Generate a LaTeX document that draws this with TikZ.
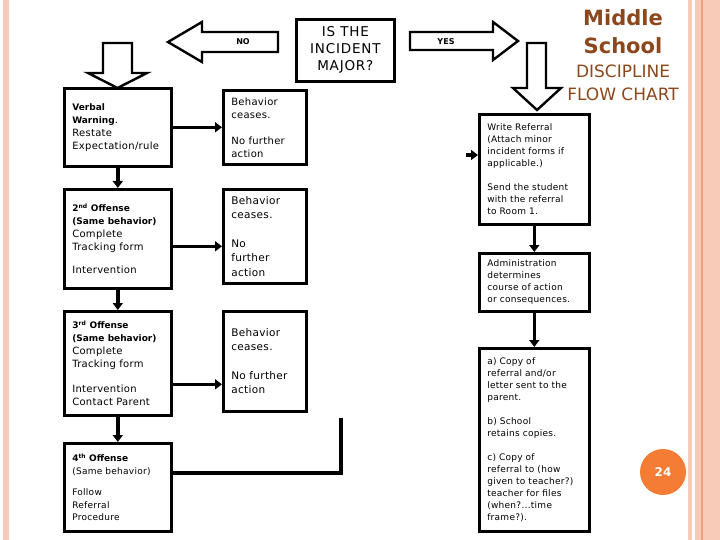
\documentclass[tikz,border=0pt]{standalone}
\usepackage{fontspec}
\usetikzlibrary{arrows.meta}
\setmainfont{DejaVu Sans}
\newfontfamily\chartfont[LetterSpace=3]{DejaVu Sans}
\newfontfamily\majorfont[LetterSpace=6]{DejaVu Sans}
\newfontfamily\headfont{DejaVu Sans}
\definecolor{stripe}{RGB}{248,202,184}
\definecolor{stripeline}{RGB}{236,158,126}
\definecolor{titlebrown}{RGB}{140,72,28}
\definecolor{pageorange}{RGB}{244,124,52}

\newcommand{\boxtext}{\chartfont\fontsize{10}{13}\selectfont}
\newcommand{\widetext}{\chartfont\fontsize{10.5}{14.5}\selectfont}
\newcommand{\smalltext}{\chartfont\fontsize{9}{12}\selectfont}
\newcommand{\boxhead}{\headfont\bfseries\fontsize{9}{13}\selectfont}

\begin{document}
\begin{tikzpicture}[x=1pt,y=-1pt,
  box/.style={draw, line width=2.6pt, anchor=north west, align=left,
    inner xsep=8pt, inner ysep=4pt},
  conn/.style={line width=3.5pt, -{Triangle[length=7pt,width=10pt]}},
  block/.style={draw, line width=2.4pt, fill=white, line join=miter}]
  \useasboundingbox (0,0) rectangle (720,540);

  % page stripes
  \fill[stripe] (3,0) rectangle (9,540);
  \fill[stripe] (688,0) rectangle (720,540);
  \fill[white] (691.5,0) rectangle (694.5,540);
  \draw[stripeline, line width=1.2pt] (702,0) -- (702,540);

  % title
  \node[text=titlebrown, align=center, font=\headfont\bfseries\fontsize{21}{28}\selectfont]
    (title) at (623,32) {Middle\\School};
  \node[text=titlebrown, align=center, font=\headfont\fontsize{17}{23}\selectfont]
    (subtitle) at (623,82.5) {DISCIPLINE\\FLOW CHART};

  % question
  \node[box, align=center, minimum width=98pt, minimum height=62pt,
    font=\majorfont\fontsize{13.5}{17}\selectfont] (major) at (295,18)
    {IS THE\\INCIDENT\\MAJOR?};

  % block arrows
  \draw[block] (278,32) -- (202,32) -- (202,22) -- (168,42) -- (202,62)
    -- (202,52) -- (278,52) -- cycle;
  \node[font=\headfont\bfseries\fontsize{8}{9}\selectfont] (no) at (243,42) {NO};
  \draw[block] (410,32) -- (493,32) -- (493,22) -- (518,41) -- (493,60)
    -- (493,50) -- (410,50) -- cycle;
  \node[font=\headfont\bfseries\fontsize{8}{9}\selectfont] (yes) at (446,42) {YES};
  \draw[block] (103,43) -- (132,43) -- (132,73) -- (147,73) -- (117.5,88)
    -- (88,73) -- (103,73) -- cycle;
  \draw[block] (527,43) -- (546,43) -- (546,88) -- (561,88) -- (537,110)
    -- (513,88) -- (527,88) -- cycle;

  % minor column
  \node[box, minimum width=107pt, minimum height=78pt, text width=91pt,
    font=\boxtext] (verbal) at (63,87)
    {{\boxhead Verbal}\\{\boxhead Warning}.\\Restate\\Expectation/rule};
  \node[box, minimum width=107pt, minimum height=99pt, text width=91pt,
    font=\boxtext] (second) at (63,188)
    {{\boxhead 2\textsuperscript{nd} Offense}\\{\boxhead (Same behavior)}\\Complete\\
     Tracking form\\[10pt]Intervention};
  \node[box, minimum width=107pt, minimum height=104pt, text width=91pt,
    font=\boxtext] (third) at (63,310)
    {{\boxhead 3\textsuperscript{rd} Offense}\\{\boxhead (Same behavior)}\\Complete\\
     Tracking form\\[12pt]Intervention\\Contact Parent};
  \node[box, minimum width=107pt, minimum height=88pt, text width=91pt,
    font=\chartfont\fontsize{9}{12.5}\selectfont] (fourth) at (63,442)
    {{\boxhead 4\textsuperscript{th} Offense}\\(Same behavior)\\[9pt]Follow\\
     Referral\\Procedure};

  % behavior ceases
  \node[box, minimum width=83pt, minimum height=74pt, text width=67pt,
    font=\boxtext] (beh1) at (222,89)
    {Behavior\\ceases.\\[13pt]No further\\action};
  \node[box, minimum width=83pt, minimum height=94pt, text width=67pt,
    font=\widetext] (beh2) at (222,188)
    {Behavior\\ceases.\\[14pt]No\\further\\action};
  \node[box, minimum width=83pt, minimum height=100pt, text width=67pt,
    font=\widetext] (beh3) at (222,310)
    {Behavior\\ceases.\\[14pt]No further\\action};

  % major column
  \node[box, minimum width=110pt, minimum height=110pt, text width=94pt,
    font=\smalltext] (write) at (478,113)
    {Write Referral\\(Attach minor\\incident forms if\\applicable.)\\[12pt]
     Send the student\\with the referral\\to Room 1.};
  \node[box, minimum width=110pt, minimum height=58pt, text width=94pt,
    font=\smalltext] (admin) at (478,252)
    {Administration\\determines\\course of action\\or consequences.};
  \node[box, minimum width=110pt, minimum height=183pt, text width=94pt,
    font=\smalltext] (copies) at (478,347)
    {a) Copy of\\referral and/or\\letter sent to the\\parent.\\[12pt]
     b) School\\retains copies.\\[12pt]c) Copy of\\referral to (how\\
     given to teacher?)\\teacher for files\\(when?...time\\frame?).};

  % connectors
  \draw[conn] (verbal.east) -- (beh1.west);
  \draw[conn] (verbal.south) -- (second.north);
  \draw[conn] ([yshift=-7.5pt]second.east) -- ([yshift=-7.5pt]second.east -| beh2.west);
  \draw[conn] (second.south) -- (third.north);
  \draw[conn] ([yshift=-21pt]third.east) -- ([yshift=-21pt]third.east -| beh3.west);
  \draw[conn] (third.south) -- (fourth.north);
  \coordinate (bend) at (341,473);
  \coordinate (loose) at (341,418);
  \draw[line width=3.5pt] (fourth.east |- bend) -- (bend) -- (loose);
  \coordinate (stub) at (466,155);
  \draw[conn] (stub) -- (stub -| write.west);
  \draw[conn] (write.south) -- (admin.north);
  \draw[conn] (admin.south) -- (copies.north);

  % page number
  \node[circle, fill=pageorange, minimum size=46pt, text=white,
    font=\headfont\bfseries\fontsize{12}{14}\selectfont] (page) at (663,472) {24};
\end{tikzpicture}
\end{document}
